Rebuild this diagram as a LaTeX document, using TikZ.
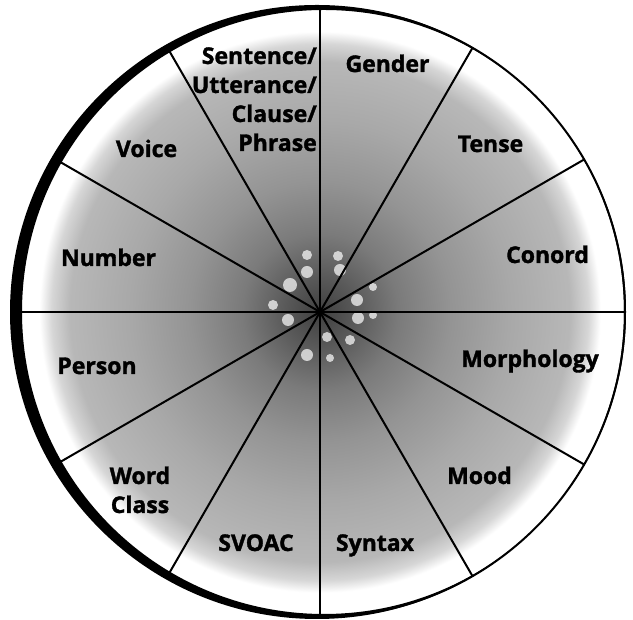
\documentclass[tikz,border=0pt]{standalone}
\usepackage{fontspec}
\setsansfont{Open Sans}[BoldFeatures={FakeBold=1.5}]
\usepackage{tikz}
\usetikzlibrary{positioning}
\pgfdeclareradialshading{hubglow}{\pgfpoint{0bp}{0bp}}{%
  color(0bp)=(black!75); color(2.9bp)=(black!65); color(6.4bp)=(black!52);
  color(10.7bp)=(black!42); color(15.6bp)=(black!34); color(20.5bp)=(black!28);
  color(22bp)=(black!16); color(23bp)=(white); color(50bp)=(white)}

\begin{document}
\begin{tikzpicture}[
    x=1pt, y=1pt,
    spoke/.style={line width=2pt},
    rim/.style={line width=2pt},
    sparkle/.style={white, opacity=0.7},
    term/.style={font=\sffamily\bfseries\fontsize{23}{29}\selectfont, inner sep=0pt, anchor=base, align=center},
]
    \useasboundingbox (0,0) rectangle (633,620);
    \coordinate (hub) at (320,308);

    % Grey glow and speckles
    \shade[shading=hubglow] (hub) circle[radius=305];
    \fill[sparkle] (307,365) circle[radius=5] (338,364) circle[radius=5]
        (307,348) circle[radius=6] (340,350) circle[radius=6]
        (290,335) circle[radius=7] (357,320) circle[radius=6]
        (273,315) circle[radius=5] (288,300) circle[radius=6]
        (358,302) circle[radius=6] (307,265) circle[radius=6]
        (330,262) circle[radius=4] (327,283) circle[radius=5]
        (350,280) circle[radius=5] (373,305) circle[radius=4]
        (373,333) circle[radius=4];

    % Spokes
    \draw[spoke] (hub) +(0:305) -- +(180:305);
    \draw[spoke] (hub) +(30:305) -- +(210:305);
    \draw[spoke] (hub) +(60:305) -- +(240:305);
    \draw[spoke] (hub) +(90:305) -- +(270:305);
    \draw[spoke] (hub) +(120:305) -- +(300:305);
    \draw[spoke] (hub) +(150:305) -- +(330:305);

    % Rim with heavy left edge
    \fill[even odd rule] (317,308) circle[radius=307] (324,308) circle[radius=302];
    \draw[rim] (hub) circle[radius=305];

    % Sector labels
    \node[term] (gender) at (387.5,548) {Gender};
    \node[term] (tense) at (490.5,468) {Tense};
    \node[term] (conord) at (547.5,357) {Conord};
    \node[term] (morphology) at (530,253) {Morphology};
    \node[term] (mood) at (479.5,136) {Mood};
    \node[term] (syntax) at (375,69) {Syntax};
    \node[term] (svoac) at (256,69) {SVOAC};
    \node[term] (wordclass) at (140,107) {Word\\Class};
    \node[term] (person) at (97,246) {Person};
    \node[term] (number) at (108.5,354) {Number};
    \node[term] (voice) at (146.5,463) {Voice};
    \node[term, align=right, anchor=base east] (sentence) at (317,469) {Sentence/\\Utterance/\\Clause/\\Phrase};
\end{tikzpicture}
\end{document}
